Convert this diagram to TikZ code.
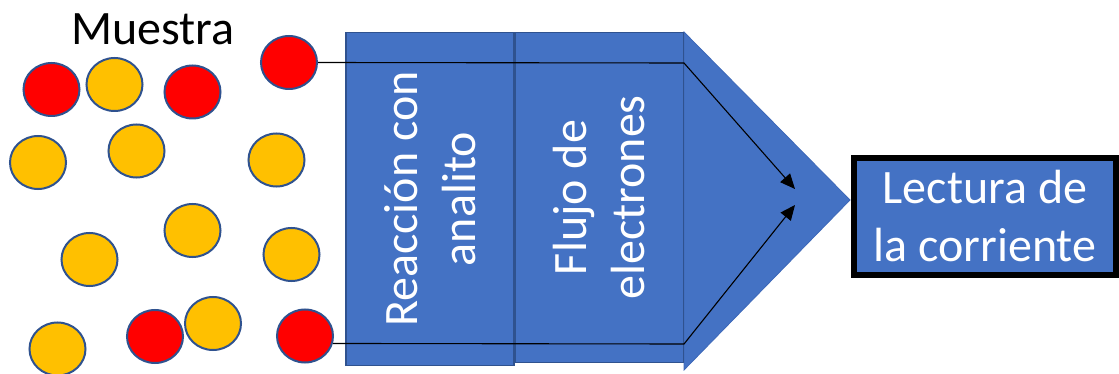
\documentclass[tikz,border=0pt]{standalone}
\usepackage{fontspec}
\setmainfont{Carlito}
\usetikzlibrary{arrows.meta,shapes.geometric}
\definecolor{pblue}{HTML}{4472C4}
\definecolor{pdark}{HTML}{2F528F}
\definecolor{pedge}{HTML}{3D68B8}
\definecolor{pred}{HTML}{FF0000}
\definecolor{pgold}{HTML}{FFC000}
\begin{document}
\begin{tikzpicture}[x=1pt,y=-1pt,
  particle/.style={ellipse, draw=pdark, line width=2pt, minimum width=56pt, minimum height=53pt, inner sep=0pt},
  redp/.style={particle, fill=pred},
  goldp/.style={particle, fill=pgold},
  bigtext/.style={font=\fontsize{48}{58}\selectfont},
  stagebox/.style={draw=pdark, line width=1.5pt, fill=pblue, rotate=90, inner sep=0pt,
    text=white, align=center, bigtext},
  readbox/.style={draw=black, line width=6pt, fill=pblue, inner sep=0pt,
    text=white, align=center, bigtext},
  wire/.style={black, line width=1.1pt},
  tipped/.style={wire, -{Triangle[length=15pt,width=13pt]}}
]
\clip (0,0) rectangle (1119,374);
\fill[white] (0,0) rectangle (1119,374);

% title
\node[anchor=base west, inner sep=0pt, bigtext] (title) at (71,45) {Muestra};

% particles
\node[redp]  (p1)  at (51.5,89.5) {};
\node[goldp] (p2)  at (114.5,84.5) {};
\node[redp]  (p3)  at (192.5,92) {};
\node[redp]  (p4)  at (289,62.5) {};
\node[goldp] (p5)  at (38,162.5) {};
\node[goldp] (p6)  at (136.5,151) {};
\node[goldp] (p7)  at (276.5,160) {};
\node[goldp] (p8)  at (192.5,230.5) {};
\node[goldp] (p9)  at (89.5,259.5) {};
\node[goldp] (p10) at (291.5,254.5) {};
\node[goldp] (p11) at (57.5,349) {};
\node[redp]  (p12) at (155,336.5) {};
\node[goldp] (p13) at (213,323.5) {};
\node[redp]  (p14) at (305,336) {};

% arrow head triangle
\coordinate (triA) at (684,32);
\coordinate (triB) at (850,200);
\coordinate (triC) at (684,370);
\filldraw[fill=pblue, draw=pedge, line width=0.8pt] (triA) -- (triB) -- (triC) -- cycle;

% stages
\node[stagebox, minimum width=333pt, minimum height=168pt] (s1) at (430,199) {Reacción con\\analito};
\node[stagebox, minimum width=330pt, minimum height=168pt] (s2) at (599.5,197.5) {Flujo de\\electrones};

% reading box
\node[readbox, minimum width=262pt, minimum height=117pt] (read) at (985,216.5) {Lectura de\\la corriente};

% wires
\coordinate (t1) at (684,63);
\coordinate (tip1) at (795,189);
\coordinate (b1) at (684,344);
\coordinate (tip2) at (795,205);
\draw[tipped] (p4.east) -- (t1) -- (tip1);
\draw[tipped] (p14.-15) -- (b1) -- (tip2);
\end{tikzpicture}
\end{document}
